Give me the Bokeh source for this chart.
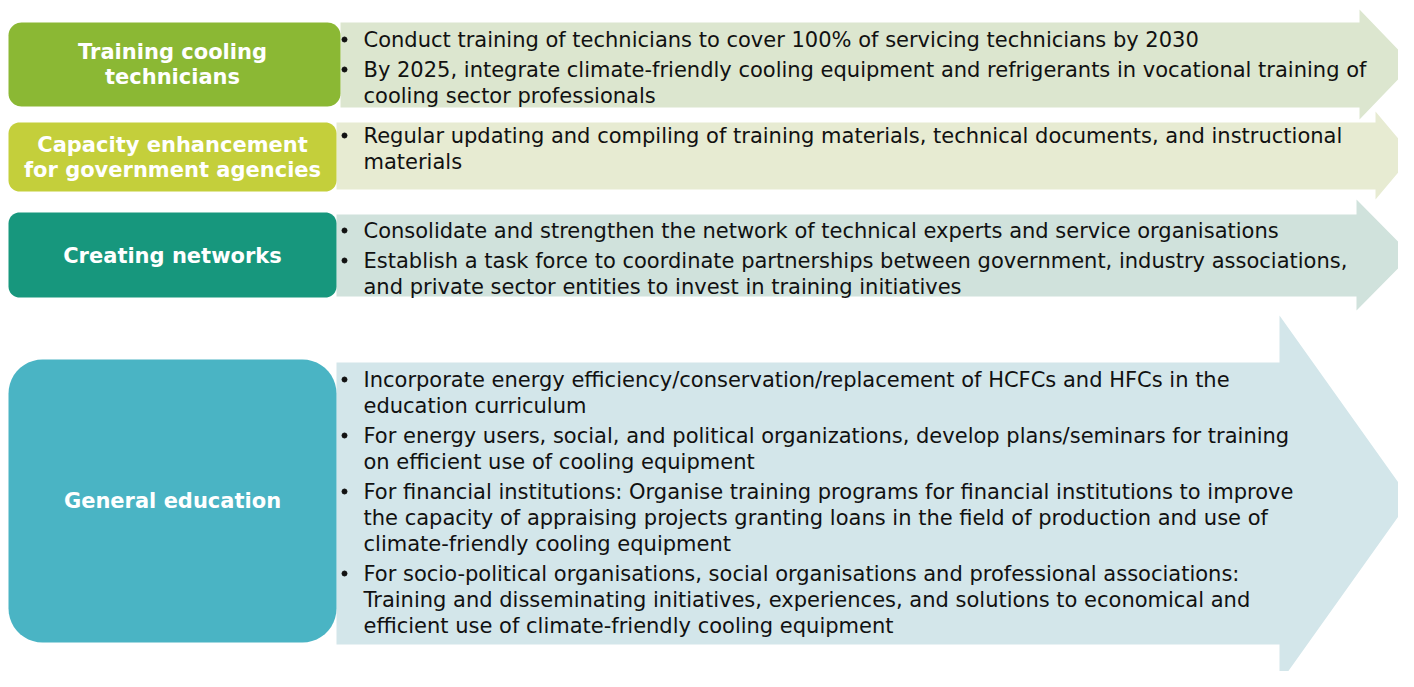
import numpy as np
from bokeh.plotting import figure
from bokeh.models import Range1d
from bokeh.core.properties import value
from bokeh.embed import file_html
from bokeh.resources import INLINE

# ---------------- content ----------------
titles = [
    "Training cooling\ntechnicians",
    "Capacity enhancement\nfor government agencies",
    "Creating networks",
    "General education",
]
bullets = [
    [
        "Conduct training of technicians to cover 100% of servicing technicians by 2030",
        "By 2025, integrate climate-friendly cooling equipment and refrigerants in vocational training of\ncooling sector professionals",
    ],
    [
        "Regular updating and compiling of training materials, technical documents, and instructional\nmaterials",
    ],
    [
        "Consolidate and strengthen the network of technical experts and service organisations",
        "Establish a task force to coordinate partnerships between government, industry associations,\nand private sector entities to invest in training initiatives",
    ],
    [
        "Incorporate energy efficiency/conservation/replacement of HCFCs and HFCs in the\neducation curriculum",
        "For energy users, social, and political organizations, develop plans/seminars for training\non efficient use of cooling equipment",
        "For financial institutions: Organise training programs for financial institutions to improve\nthe capacity of appraising projects granting loans in the field of production and use of\nclimate-friendly cooling equipment",
        "For socio-political organisations, social organisations and professional associations:\nTraining and disseminating initiatives, experiences, and solutions to economical and\nefficient use of climate-friendly cooling equipment",
    ],
]
box_colors = ["#8BB834", "#C4CF3B", "#17977D", "#4AB4C4"]
arrow_colors = ["#DCE6CF", "#E7EBD2", "#D0E2DC", "#D3E6EA"]

# ---------------- layout (page pixels) ----------------
box_left = [9, 9, 9, 9]
box_right = [341, 337, 337, 337]
box_top = [23, 123, 213, 360]
box_bottom = [107, 192, 298, 643]
box_radius = [13, 11, 11, 34]

arrow_left = [341, 337, 337, 337]
arrow_top = [23, 123, 215, 363]
arrow_bottom = [108, 190, 297, 645]
head_x = [1360, 1376, 1357, 1280]
head_top = [10, 112, 200, 316]
head_bottom = [120, 200, 311, 684]
tip_x = [1413, 1413, 1412, 1411]

first_line = [40, 136, 231, 380]
line_step = 26
para_step = 30
bullet_x = 345
text_x = 364

title_cx = [173, 173, 173, 173]
title_first = [52, 145, 256, 501]
title_step = 25

W, H = 1398, 671
X0, Y0 = 1, 1
p = figure(width=W, height=H, x_range=Range1d(X0, X0 + W), y_range=Range1d(Y0 + H, Y0),
           output_backend="svg", toolbar_location=None, min_border=0)
p.axis.visible = False
p.grid.visible = False
p.outline_line_color = None
p.background_fill_color = "white"
p.border_fill_color = "white"


def rounded_rect(x0, x1, y0, y1, r, n=12):
    xs, ys = [], []
    corners = [
        (x1 - r, y0 + r, -np.pi / 2, 0),
        (x1 - r, y1 - r, 0, np.pi / 2),
        (x0 + r, y1 - r, np.pi / 2, np.pi),
        (x0 + r, y0 + r, np.pi, 1.5 * np.pi),
    ]
    for cx, cy, a0, a1 in corners:
        t = np.linspace(a0, a1, n)
        xs.extend(cx + r * np.cos(t))
        ys.extend(cy + r * np.sin(t))
    return list(xs), list(ys)


# arrows
axs, ays = [], []
for i in range(4):
    mid = (head_top[i] + head_bottom[i]) / 2
    axs.append([arrow_left[i], head_x[i], head_x[i], tip_x[i], head_x[i], head_x[i], arrow_left[i]])
    ays.append([arrow_top[i], arrow_top[i], head_top[i], mid, head_bottom[i], arrow_bottom[i], arrow_bottom[i]])
p.patches(axs, ays, fill_color=arrow_colors, line_color=None)

# boxes
bxs, bys = [], []
for i in range(4):
    xs, ys = rounded_rect(box_left[i], box_right[i], box_top[i], box_bottom[i], box_radius[i])
    bxs.append(xs)
    bys.append(ys)
p.patches(bxs, bys, fill_color=box_colors, line_color=None)

# titles
tx, ty, tt = [], [], []
for i, t in enumerate(titles):
    for j, ln in enumerate(t.split("\n")):
        tx.append(title_cx[i])
        ty.append(title_first[i] + j * title_step)
        tt.append(ln)
p.text(tx, ty, text=tt, text_font=value("DejaVu Sans"), text_font_style="bold",
       text_font_size="21px", text_color="white", text_align="center",
       text_baseline="middle")

# bullets
lx, ly, lt = [], [], []
dx, dy = [], []
for i, items in enumerate(bullets):
    y = first_line[i]
    for k, item in enumerate(items):
        if k > 0:
            y += para_step
        dx.append(bullet_x)
        dy.append(y)
        for j, ln in enumerate(item.split("\n")):
            if j > 0:
                y += line_step
            lx.append(text_x)
            ly.append(y)
            lt.append(ln)
p.text(lx, ly, text=lt, text_font=value("DejaVu Sans"), text_font_size="21px",
       text_color="#111111", text_baseline="middle")
p.scatter(dx, dy, size=5, color="#111111")

open("out.html", "w").write(file_html(p, INLINE))
